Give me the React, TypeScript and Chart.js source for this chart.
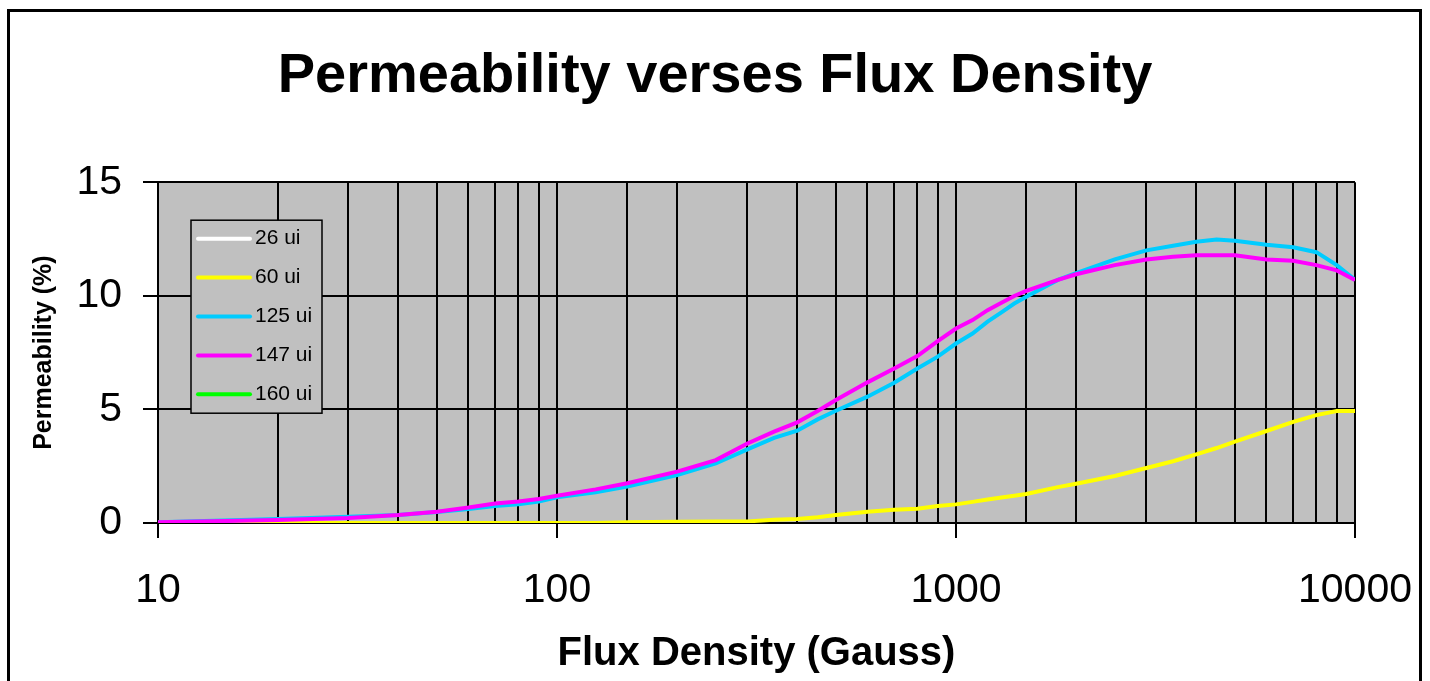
import React, { useEffect, useRef } from 'react';
import { Chart, registerables } from 'chart.js';

Chart.register(...registerables);

const chartTitle = 'Permeability verses Flux Density';
const xAxisTitle = 'Flux Density (Gauss)';
const yAxisTitle = 'Permeability (%)';

const xMajorTicks = [10, 100, 1000, 10000];
const yTicks = [0, 5, 10, 15];

const fluxDensity = [10, 20, 30, 40, 50, 60, 70, 80, 90, 100, 125, 150, 200, 250, 300, 350, 400, 450, 500, 600, 700, 800, 900, 1000, 1100, 1200, 1300, 1400, 1500, 1800, 2000, 2500, 3000, 3500, 4000, 4500, 5000, 6000, 7000, 8000, 9000, 10000];

const seriesLabels = ['26 ui', '60 ui', '125 ui', '147 ui', '160 ui'];
const seriesColors = ['#FFFFFF', '#FFFF00', '#00CCFF', '#FF00FF', '#00FF00'];

const perm26: number[] = [];
const perm60 = [0, 0, 0, 0, 0, 0, 0, 0, 0, 0, 0, 0.03, 0.06, 0.07, 0.07, 0.14, 0.18, 0.25, 0.35, 0.5, 0.58, 0.63, 0.75, 0.82, 0.93, 1.03, 1.12, 1.2, 1.28, 1.58, 1.73, 2.07, 2.42, 2.72, 3.02, 3.3, 3.58, 4.05, 4.45, 4.75, 4.93, 4.93];
const perm125 = [0.03, 0.18, 0.27, 0.35, 0.48, 0.62, 0.75, 0.82, 0.95, 1.13, 1.35, 1.6, 2.11, 2.62, 3.24, 3.75, 4.06, 4.56, 4.94, 5.56, 6.17, 6.8, 7.32, 7.9, 8.34, 8.86, 9.27, 9.66, 9.96, 10.7, 11.0, 11.6, 12.0, 12.2, 12.38, 12.48, 12.42, 12.25, 12.14, 11.92, 11.35, 10.7];
const perm147 = [0.03, 0.13, 0.22, 0.35, 0.5, 0.68, 0.86, 0.95, 1.06, 1.2, 1.48, 1.75, 2.26, 2.77, 3.5, 4.02, 4.43, 4.93, 5.41, 6.19, 6.8, 7.35, 8.0, 8.56, 8.93, 9.37, 9.69, 9.99, 10.22, 10.7, 10.95, 11.35, 11.6, 11.72, 11.79, 11.79, 11.78, 11.6, 11.54, 11.35, 11.12, 10.7];
const perm160: number[] = [];

const seriesValues = [perm26, perm60, perm125, perm147, perm160];
const drawOrder = [5, 3, 2, 1, 4];

const FONT = "'Liberation Sans', Arial, sans-serif";

const plotBackground = {
  id: 'plotBackground',
  beforeDraw(chart: any) {
    const { ctx, chartArea } = chart;
    ctx.save();
    ctx.fillStyle = '#C0C0C0';
    ctx.fillRect(chartArea.left, chartArea.top, chartArea.right - chartArea.left, chartArea.bottom - chartArea.top);
    ctx.restore();
  },
};

const insideLegend = {
  id: 'insideLegend',
  afterDraw(chart: any) {
    const { ctx, chartArea } = chart;
    const x = chartArea.left + 33;
    const y = chartArea.top + 38;
    const w = 131;
    const h = 193;
    ctx.save();
    ctx.fillStyle = '#C0C0C0';
    ctx.fillRect(x, y, w, h);
    ctx.strokeStyle = '#000000';
    ctx.lineWidth = 1.5;
    ctx.strokeRect(x, y, w, h);
    chart.data.datasets.forEach((ds: any, i: number) => {
      const cy = y + 18.5 + i * 38.9;
      ctx.strokeStyle = ds.borderColor;
      ctx.lineWidth = 4;
      ctx.lineCap = 'round';
      ctx.beginPath();
      ctx.moveTo(x + 7, cy);
      ctx.lineTo(x + 59, cy);
      ctx.stroke();
      ctx.fillStyle = '#000000';
      ctx.font = `21px ${FONT}`;
      ctx.textBaseline = 'middle';
      ctx.textAlign = 'left';
      ctx.fillText(ds.label, x + 64, cy);
    });
    ctx.restore();
  },
};

export default function App() {
  const canvasRef = useRef<HTMLCanvasElement | null>(null);

  useEffect(() => {
    if (!canvasRef.current) return;
    const datasets = seriesLabels.map((label, i) => ({
      label,
      data: seriesValues[i].map((v, j) => ({ x: fluxDensity[j], y: v })),
      borderColor: seriesColors[i],
      backgroundColor: seriesColors[i],
      borderWidth: 4,
      pointRadius: 0,
      tension: 0,
      fill: false,
      order: drawOrder[i],
      yAxisID: 'y',
    }));

    const chart = new Chart(canvasRef.current, {
      type: 'line',
      data: { datasets },
      plugins: [plotBackground, insideLegend],
      options: {
        responsive: false,
        animation: false,
        devicePixelRatio: 1,
        layout: { padding: 0 },
        plugins: {
          legend: { display: false },
          tooltip: { enabled: false },
          title: {
            display: true,
            text: chartTitle,
            color: '#000000',
            font: { family: FONT, size: 56, weight: 'bold' },
            padding: { top: 43, bottom: 72 },
          },
        },
        scales: {
          x: {
            type: 'logarithmic',
            min: 10,
            max: 10000,
            afterFit(scale: any) {
              scale.height = 158;
              scale.paddingLeft = 40;
              scale.paddingRight = 60;
            },
            ticks: {
              autoSkip: false,
              maxRotation: 0,
              minRotation: 0,
              color: '#000000',
              padding: 28,
              font: { family: FONT, size: 41 },
              callback: (value: any) => (xMajorTicks.includes(Number(value)) ? String(value) : ''),
            },
            grid: {
              color: '#000000',
              lineWidth: 2,
              tickLength: 15,
              tickColor: (ctx: any) => (ctx.tick && xMajorTicks.includes(Number(ctx.tick.value)) ? '#000000' : 'rgba(0,0,0,0)'),
            },
            border: { display: true, color: '#000000', width: 2 },
            title: {
              display: true,
              text: xAxisTitle,
              color: '#000000',
              font: { family: FONT, size: 40, weight: 'bold' },
              padding: { top: 0, bottom: 3 },
            },
          },
          y: {
            type: 'linear',
            position: 'left',
            min: yTicks[0],
            max: yTicks[yTicks.length - 1],
            afterFit(scale: any) { scale.width = 158; },
            afterBuildTicks(scale: any) { scale.ticks = yTicks.map((v) => ({ value: v })); },
            ticks: {
              color: '#000000',
              padding: 21,
              font: { family: FONT, size: 41 },
            },
            grid: {
              color: '#000000',
              lineWidth: 2,
              tickLength: 15,
              tickColor: '#000000',
            },
            border: { display: true, color: '#000000', width: 2 },
            title: {
              display: true,
              text: yAxisTitle,
              color: '#000000',
              font: { family: FONT, size: 25, weight: 'bold' },
              padding: { top: 29, bottom: 0 },
            },
          },
          rightGap: {
            type: 'linear',
            position: 'right',
            display: true,
            min: yTicks[0],
            max: yTicks[yTicks.length - 1],
            afterFit(scale: any) { scale.width = 75; },
            ticks: { display: false },
            grid: { display: false, drawOnChartArea: false, drawTicks: false },
            border: { display: false },
            title: { display: false },
          },
        },
      },
    });
    return () => chart.destroy();
  }, []);

  return (
    <div style={{ position: 'fixed', left: 0, top: 0, width: 1430, height: 681, overflow: 'hidden', background: '#FFFFFF' }}>
      <canvas ref={canvasRef} width={1430} height={681} style={{ position: 'absolute', left: 0, top: 0, width: 1430, height: 681 }} />
      <div style={{ position: 'absolute', left: 7, top: 9, width: 1415, height: 720, border: '3px solid #000000', boxSizing: 'border-box', pointerEvents: 'none' }} />
    </div>
  );
}
